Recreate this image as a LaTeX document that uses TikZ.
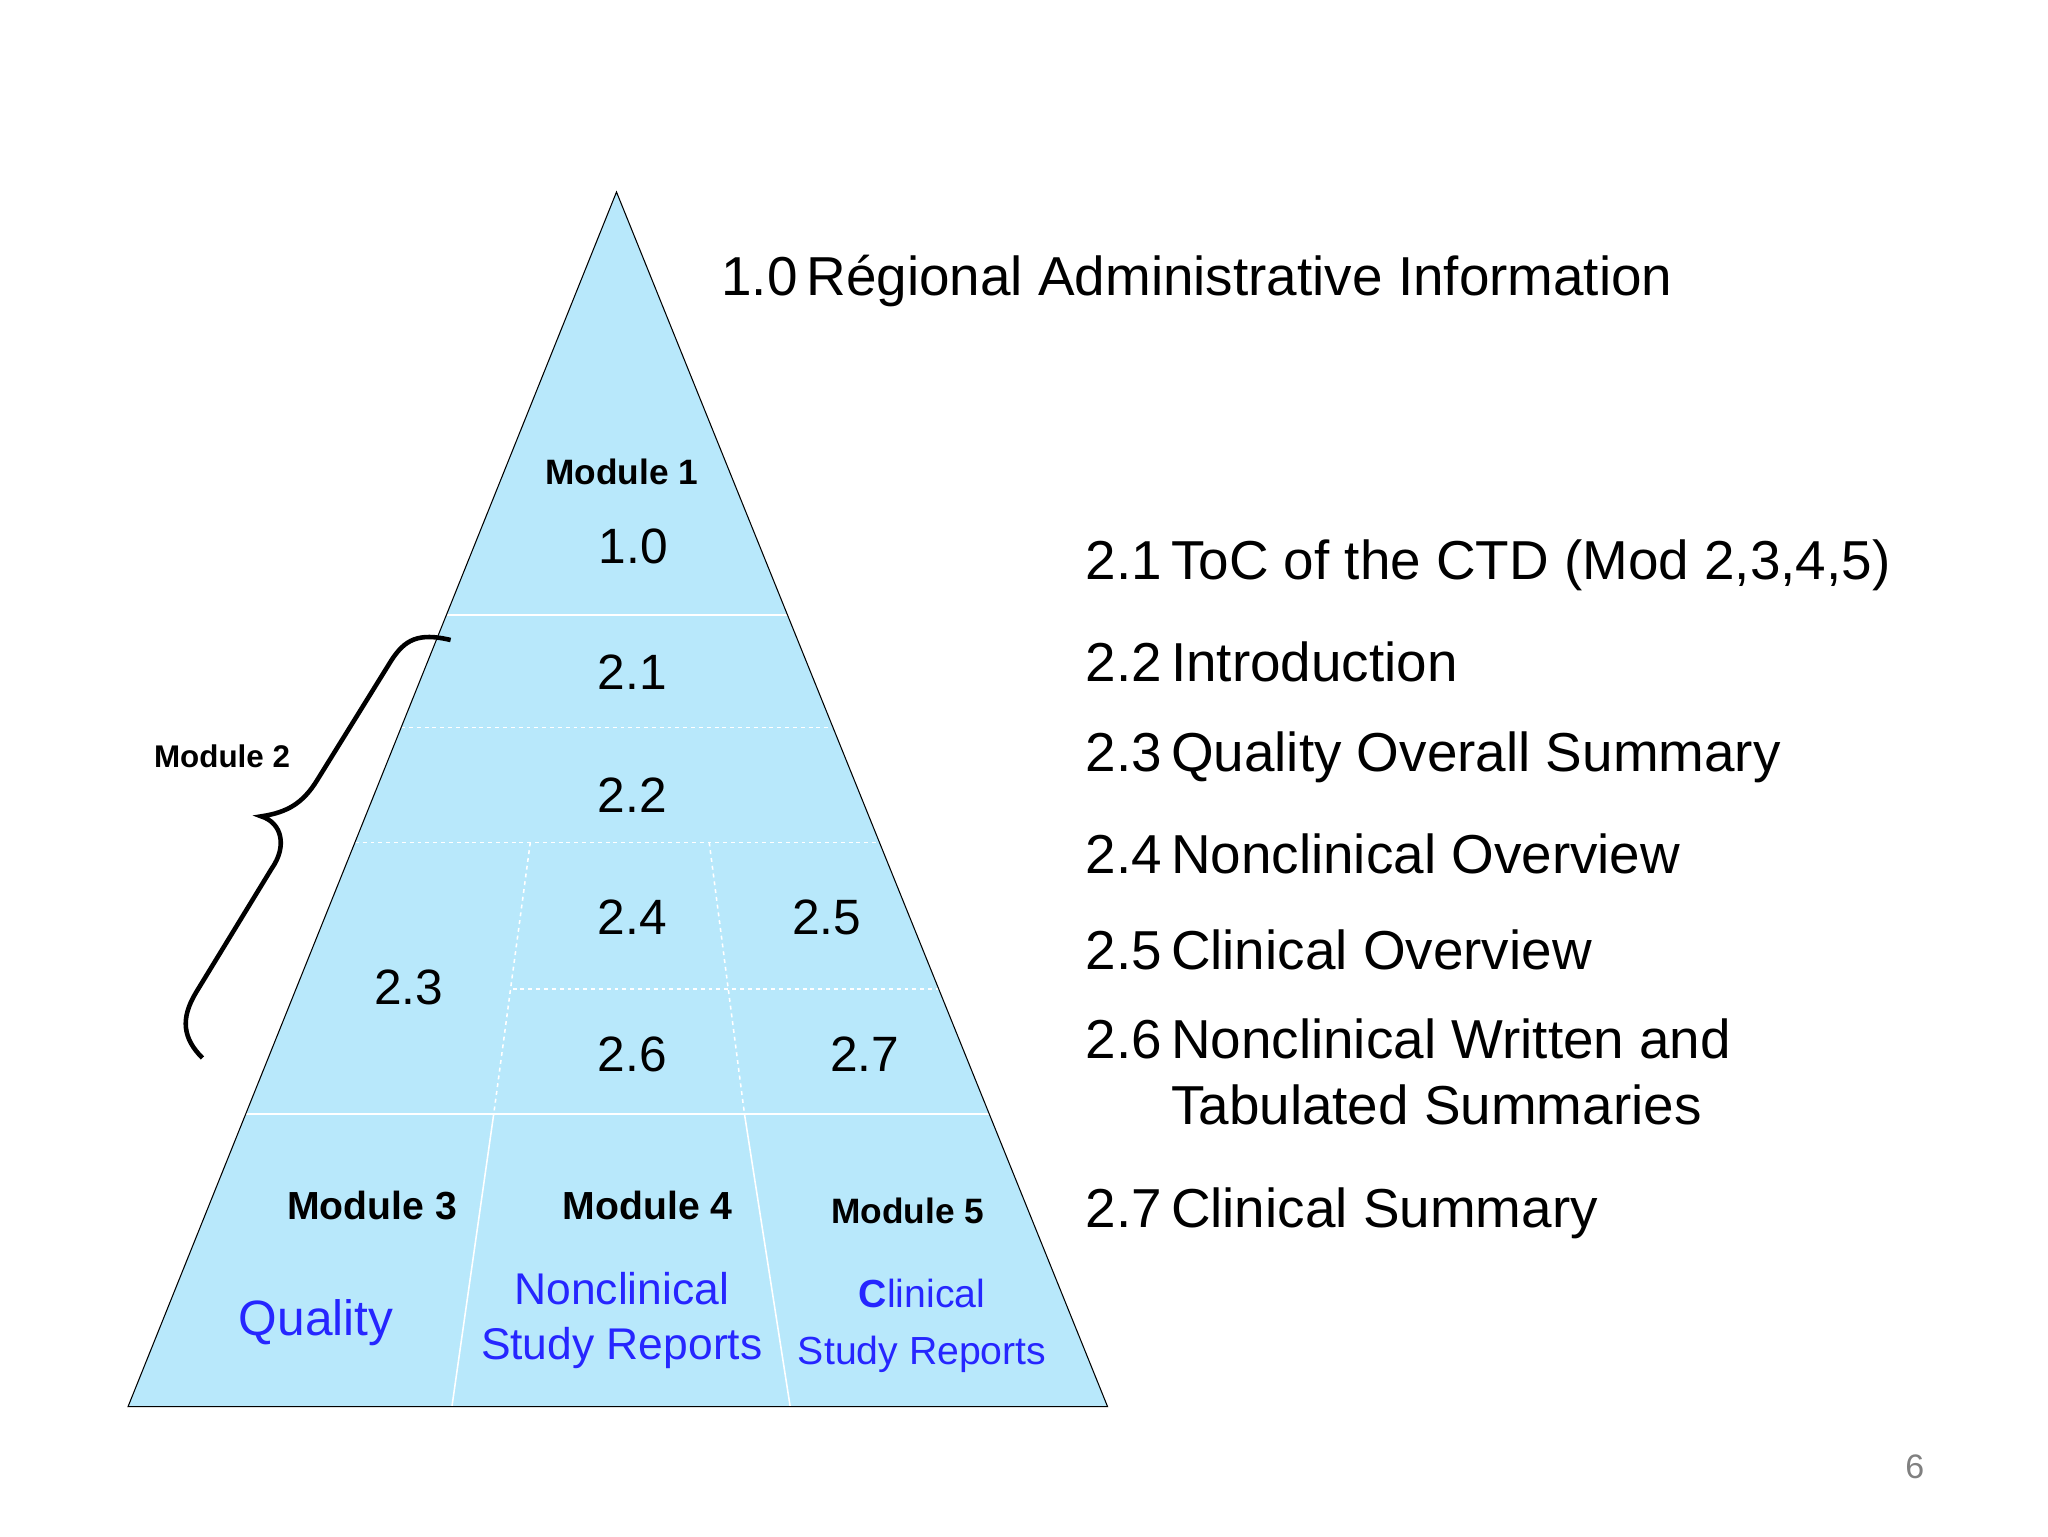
\documentclass[tikz,border=0pt]{standalone}
\usepackage{fontspec}
\setmainfont{Liberation Sans}
\begin{document}
\begin{tikzpicture}[x=1pt,y=-1pt,
  sep/.style={draw=white,line width=1.2pt},
  dsep/.style={draw=white,line width=1.2pt,dashed},
  num/.style={font=\fontsize{38}{40}\selectfont,inner sep=0},
  modl/.style={font=\bfseries\fontsize{30}{32}\selectfont,inner sep=0},
  blu/.style={text=blue!85!white,align=center,inner sep=0},
  item/.style={font=\fontsize{42}{50}\selectfont,anchor=west,inner sep=0,align=left}]
\useasboundingbox (0,0) rectangle (1568,1176);
\coordinate (apex) at (472,147);
\coordinate (bl) at (98,1077);
\coordinate (br) at (848,1077);
\fill[cyan!30!white,fill=cyan!28!white] (apex)--(bl)--(br)--cycle;
\draw[sep] (341.7,471)--(603,471);
\draw[dsep] (307.1,557)--(637.8,557);
\draw[dsep] (271.7,645)--(673.3,645);
\draw[dsep] (392.5,757)--(718.6,757);
\draw[sep] (188.1,853)--(757.4,853);
\draw[dsep] (406,645)--(378,853);
\draw[dsep] (543,645)--(570,853);
\draw[sep] (378,853)--(346,1077);
\draw[sep] (570,853)--(605,1077);
\draw[line width=0.8pt] (apex)--(bl)--(br)--cycle;
\node[modl,font=\bfseries\fontsize{27}{30}\selectfont] (m1) at (476,361) {Module 1};
\node[num] (n10) at (485,418) {1.0};
\node[num] (n21) at (484,515) {2.1};
\node[num] (n22) at (484,609) {2.2};
\node[num] (n24) at (484,702) {2.4};
\node[num] (n25) at (633,702) {2.5};
\node[num] (n23) at (313,756) {2.3};
\node[num] (n26) at (484,807) {2.6};
\node[num] (n27) at (662,807) {2.7};
\node[modl] (m3) at (285,923) {Module 3};
\node[modl] (m4) at (496,923) {Module 4};
\node[modl,font=\bfseries\fontsize{27}{30}\selectfont] (m5) at (695,927) {Module 5};
\node[blu,font=\fontsize{38}{40}\selectfont] (q) at (242,1013) {Quality};
\node[blu,font=\fontsize{34}{42}\selectfont] (nc) at (476,1011) {Nonclinical\\Study Reports};
\node[blu,font=\fontsize{30}{44}\selectfont] (cl) at (706,1015) {\textbf{C}linical\\Study Reports};
\node[modl,font=\bfseries\fontsize{24}{26}\selectfont] (m2) at (170,579) {Module 2};
\draw[line width=3.5pt] (345,490) .. controls (320,484) and (310,490) .. (300,505)
  -- (243,597) .. controls (232,615) and (220,622) .. (200,625)
  .. controls (216,630) and (220,648) .. (208,665)
  -- (150,760) .. controls (138,780) and (140,795) .. (155,810);
\node[item] (t10) at (552,215) {1.0\,Régional Administrative Information};
\node[item] (t21) at (831,433) {2.1\,ToC of the CTD (Mod 2,3,4,5)};
\node[item] (t22) at (831,507) {2.2\,Introduction};
\node[item] (t23) at (831,580) {2.3\,Quality Overall Summary};
\node[item] (t24) at (831,654) {2.4\,Nonclinical Overview};
\node[item] (t25) at (831,727) {2.5\,Clinical Overview};
\node[item,anchor=north west] (t26) at (831,780) {2.6\,Nonclinical Written and\\\phantom{2.6\,}Tabulated Summaries};
\node[item] (t27) at (831,929) {2.7\,Clinical Summary};
\node[text=gray,font=\fontsize{26}{28}\selectfont] (pg) at (1466,1123) {6};
\end{tikzpicture}
\end{document}
